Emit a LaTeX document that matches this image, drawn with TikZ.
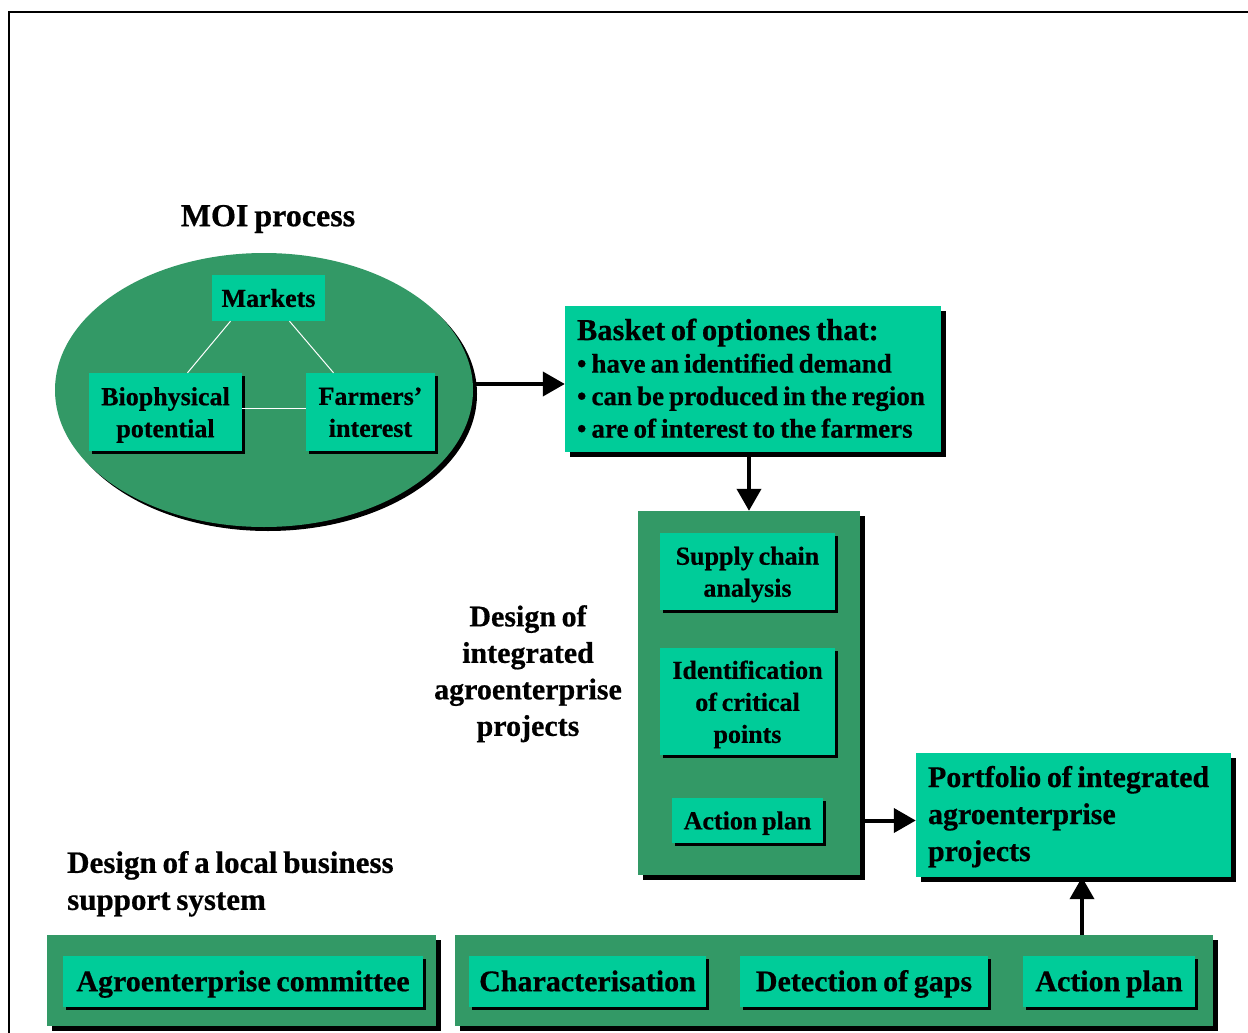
\documentclass[tikz,border=0pt]{standalone}
\usepackage{fontspec}
\setmainfont{Liberation Serif}[WordSpace=0.75,BoldFeatures={FakeBold=0.6}]
\usetikzlibrary{shapes.geometric,shadows,arrows.meta,calc}
\definecolor{dgreen}{RGB}{51,153,102}
\definecolor{lgreen}{RGB}{0,204,153}
\newcommand{\fsz}[2]{\fontsize{#1}{#2}\selectfont\bfseries}
\newcommand{\topstrut}{\rule{0pt}{\dimexpr 0.7\baselineskip+5pt\relax}}
\begin{document}
\begin{tikzpicture}[x=1pt,y=-1pt,
  shA/.style={drop shadow={shadow xshift=5pt,shadow yshift=-5pt,fill=black,opacity=1}},
  shB/.style={drop shadow={shadow xshift=3pt,shadow yshift=-3pt,fill=black,opacity=1}},
  dbox/.style={rectangle,fill=dgreen,draw=none,inner sep=0pt,shA},
  lbox/.style={rectangle,fill=lgreen,draw=none,inner sep=0pt,align=center,text=black,
    execute at begin node=\topstrut,execute at end node=\strut},
  txt/.style={align=center,inner sep=0pt,text=black,
    execute at begin node=\strut,execute at end node=\strut},
  arr/.style={line width=4pt,-{Triangle[length=22pt,width=24pt]}},
  wline/.style={white,line width=1pt}]
\useasboundingbox (0,0) rectangle (1248,1033);
\fill[white] (0,0) rectangle (1248,1033);
\draw[line width=2.5pt] (9,1040) -- (9,12) -- (1255,12);

% MOI process
\node[txt,font=\fsz{32}{36}] (moit) at (268,219) {MOI process};
\node[ellipse,fill=dgreen,minimum width=418pt,minimum height=274pt,inner sep=0pt,
  drop shadow={shadow xshift=4pt,shadow yshift=-4pt,fill=black,opacity=1}] (moi) at (264,390) {};
\node[lbox,minimum width=113pt,minimum height=46pt,font=\fsz{26}{32}] (mk) at (268.5,298) {Markets};
\node[lbox,shB,minimum width=153pt,minimum height=78pt] (bio) at (165.5,412) {};
\node[txt,font=\fsz{26}{32}] (biot) at ($(bio)+(0,5)$) {Biophysical\\potential};
\node[lbox,shB,minimum width=129pt,minimum height=78pt] (far) at (370.5,412) {};
\node[txt,font=\fsz{26}{32}] (fart) at ($(far)+(0,5)$) {Farmers’\\interest};
\draw[wline] ($(mk.south)+(-38,0)$) -- ($(bio.north)+(22,0)$);
\draw[wline] ($(mk.south)+(21,0)$) -- ($(far.north)+(-37,0)$);
\draw[wline] ($(bio.east)+(0,-4)$) -- ($(far.west)+(0,-4)$);

% Basket
\node[lbox,shA,minimum width=376pt,minimum height=146pt] (bas) at (753,379) {};
\node[txt,align=left,anchor=west,font=\fsz{27}{32.5}] (bast) at ($(bas.west)+(12,4)$)
  {{\fontsize{30.5}{32.5}\selectfont Basket of optiones that:}\\• have an identified demand\\• can be produced in the region\\• are of interest to the farmers};
\draw[arr] (moi.east |- 0,384) -- (bas.west |- 0,384);

% Design of integrated agroenterprise projects
\node[dbox,minimum width=222pt,minimum height=364pt] (des) at (749,693) {};
\node[lbox,shB,minimum width=175pt,minimum height=77pt] (sca) at (747.5,571.5) {};
\node[txt,font=\fsz{26}{32}] (scat) at ($(sca)+(0,5)$) {Supply chain\\analysis};
\node[lbox,shB,minimum width=175pt,minimum height=107pt] (icp) at (747.5,701.5) {};
\node[txt,font=\fsz{26}{32}] (icpt) at ($(icp)+(0,5)$) {Identification\\of critical\\points};
\node[lbox,shB,minimum width=151pt,minimum height=45pt,font=\fsz{26}{32}] (ap1) at (747.5,820.5) {Action plan};
\node[txt,font=\fsz{30}{36.5}] (dest) at (528,676) {Design of\\integrated\\agroenterprise\\projects};
\draw[arr] (bas.south -| des.north) -- (des.north);

% Portfolio
\node[lbox,shA,minimum width=315pt,minimum height=124pt] (port) at (1073.5,815) {};
\node[txt,align=left,anchor=west,font=\fsz{30}{37}] (portt) at ($(port.west)+(12,4)$)
  {Portfolio of integrated\\agroenterprise\\projects};
\draw[arr] (des.east |- ap1) -- (port.west |- ap1);

% Local business support system
\node[txt,align=left,anchor=west,font=\fsz{31}{37}] (loct) at (67,886) {Design of a local business\\support system};
\node[dbox,minimum width=389pt,minimum height=91pt] (lb1) at (241.5,980.5) {};
\node[lbox,shB,minimum width=360pt,minimum height=51pt,font=\fsz{30}{36}] (com) at (243,981.5) {Agroenterprise committee};
\node[dbox,minimum width=758pt,minimum height=91pt] (lb2) at (834,980.5) {};
\node[lbox,shB,minimum width=237pt,minimum height=51pt,font=\fsz{30}{36}] (cha) at (587.5,981.5) {Characterisation};
\node[lbox,shB,minimum width=248pt,minimum height=51pt,font=\fsz{30}{36}] (gap) at (864,981.5) {Detection of gaps};
\node[lbox,shB,minimum width=172pt,minimum height=51pt,font=\fsz{30}{36}] (ap2) at (1109,981.5) {Action plan};
\coordinate (up) at (1082,935);
\draw[arr] (up) -- (up |- port.south);
\end{tikzpicture}
\end{document}
